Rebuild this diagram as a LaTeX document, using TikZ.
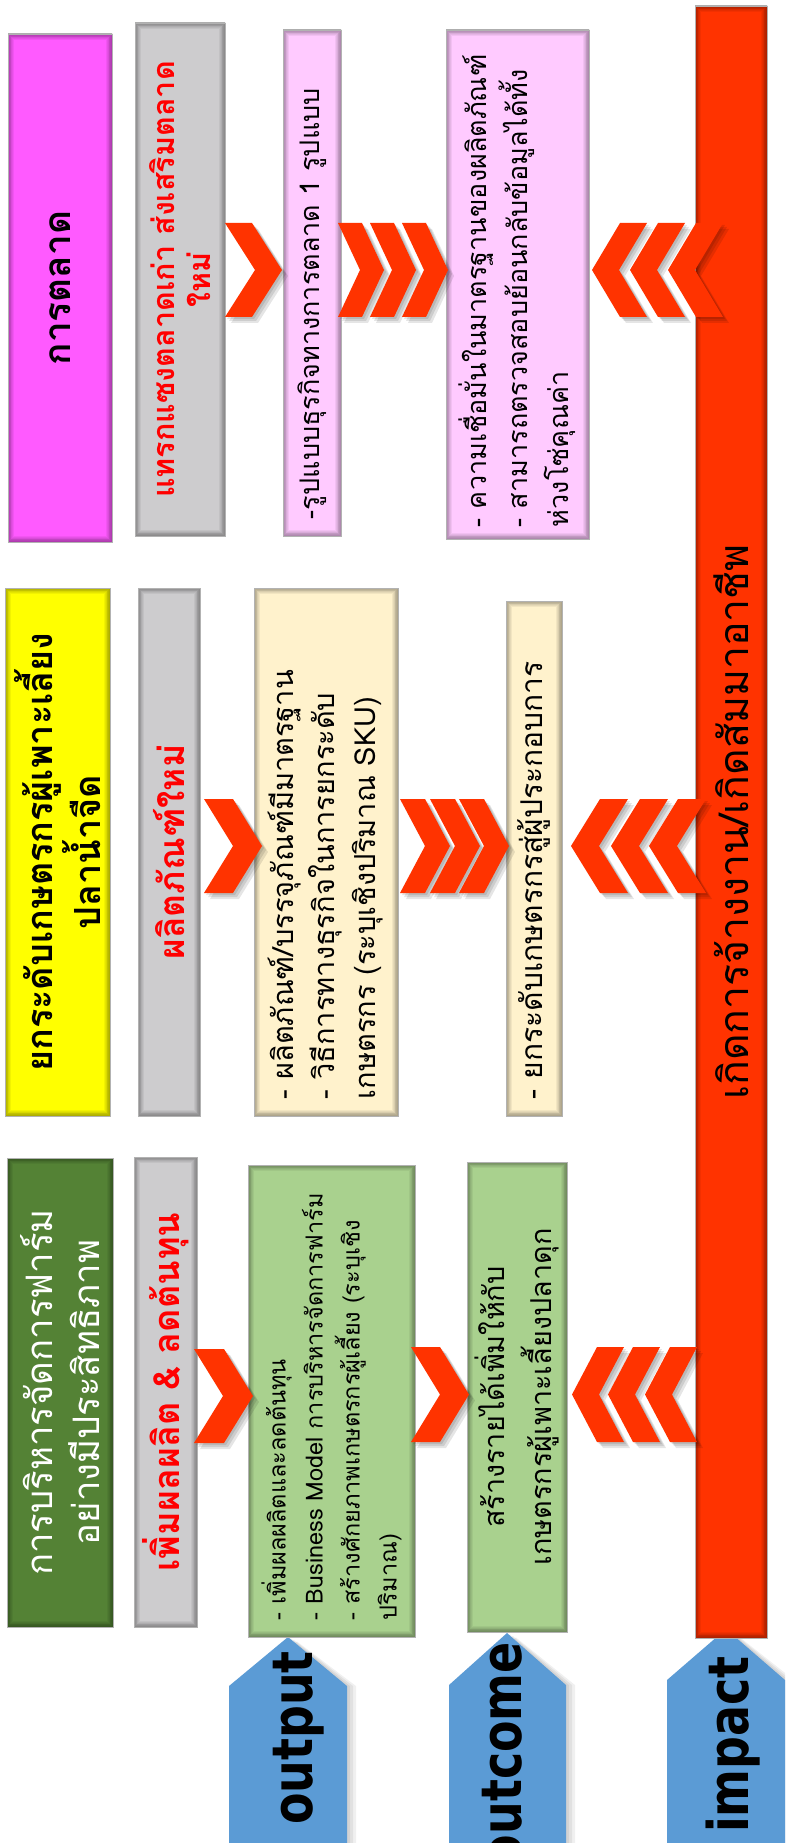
\documentclass[tikz,border=0pt]{standalone}
\usepackage{fontspec}
\newfontfamily\thaif[Script=Thai]{Loma}
\newfontfamily\labf{DejaVu Sans}
\definecolor{magc}{RGB}{255,90,255}
\definecolor{grayc}{RGB}{205,204,206}
\definecolor{pinkc}{RGB}{255,202,255}
\definecolor{redc}{RGB}{255,51,0}
\definecolor{yelc}{RGB}{255,255,0}
\definecolor{creamc}{RGB}{255,242,204}
\definecolor{dgreenc}{RGB}{84,130,53}
\definecolor{lgreenc}{RGB}{169,209,142}
\definecolor{bluec}{RGB}{91,155,213}
\definecolor{txtred}{RGB}{255,0,0}
\tikzset{
  box/.style={rotate=90, inner sep=0pt, draw=black!30, line width=0.6pt,
    path picture={\foreach \k in {1,...,7}{\draw[black, opacity=0.05, line width=\k*1.7pt]
      (path picture bounding box.south west) rectangle (path picture bounding box.north east);}}},
  body/.style={align=left, inner xsep=17pt, font=\thaif\fontsize{30}{39}\selectfont},
  title/.style={align=center, font=\thaif\bfseries\fontsize{36}{46}\selectfont},
  redtitle/.style={align=center, text=txtred, font=\thaif\bfseries\fontsize{34}{40}\selectfont},
  chev/.style={fill=redc},
  chevsh/.style={fill=black, opacity=0.10},
  pent/.style={fill=bluec},
  lab/.style={rotate=90, inner sep=0pt, font=\labf\bfseries\fontsize{56}{60}\selectfont},
}
% right-pointing chevron: x, ytop, w, d, h
\newcommand\chevR[5]{%
  \foreach \s in {2,4,6}{\fill[chevsh] ({#1+\s},{#2+\s}) -- ++({#3-#4},0) -- ++(#4,{#5/2}) -- ++(-#4,{#5/2}) -- ++({-(#3-#4)},0) -- ++(#4,{-#5/2}) -- cycle;}
  \fill[chev] (#1,#2) -- ++({#3-#4},0) -- ++(#4,{#5/2}) -- ++(-#4,{#5/2}) -- ++({-(#3-#4)},0) -- ++(#4,{-#5/2}) -- cycle;}
% left-pointing chevron: xtip, ytop, w, d, h
\newcommand\chevL[5]{%
  \foreach \s in {2,4,6}{\fill[chevsh] ({#1+\s},{#2+#5/2+\s}) -- ++(#4,{-#5/2}) -- ++({#3-#4},0) -- ++(-#4,{#5/2}) -- ++(#4,{#5/2}) -- ++({-(#3-#4)},0) -- cycle;}
  \fill[chev] (#1,{#2+#5/2}) -- ++(#4,{-#5/2}) -- ++({#3-#4},0) -- ++(-#4,{#5/2}) -- ++(#4,{#5/2}) -- ++({-(#3-#4)},0) -- cycle;}
\begin{document}
\begin{tikzpicture}[x=1pt,y=-1pt]
\useasboundingbox (0,0) rectangle (785,1843);
\clip (0,0) rectangle (785,1843);
\fill[white] (0,0) rectangle (785,1843);

% ---------- pentagon labels ----------
\foreach \s in {3,6,9}{
  \fill[black,opacity=0.06] ({229+\s},1850) -- ({229+\s},1686) -- ({288+\s},{1637+\s/2}) -- ({347+\s},1686) -- ({347+\s},1850) -- cycle;
  \fill[black,opacity=0.06] ({449+\s},1850) -- ({449+\s},1685) -- ({507+\s},{1633+\s/2}) -- ({566+\s},1685) -- ({566+\s},1850) -- cycle;
  \fill[black,opacity=0.06] ({667+\s},1850) -- ({667+\s},1680) -- ({726+\s},{1629+\s/2}) -- ({785+\s},1680) -- ({785+\s},1850) -- cycle;
}
\fill[pent] (229,1850) -- (229,1686) -- (288,1637) -- (347,1686) -- (347,1850) -- cycle;
\fill[pent] (449,1850) -- (449,1685) -- (507,1633) -- (566,1685) -- (566,1850) -- cycle;
\fill[pent] (667,1850) -- (667,1680) -- (726,1629) -- (785,1680) -- (785,1850) -- cycle;
\node[lab, anchor=base east] (outputlab) at (312,1651) {\scalebox{0.82}[1]{output}};
\node[lab, anchor=base east] (outcomelab) at (521,1642) {\scalebox{0.82}[1]{outcome}};
\node[lab, anchor=base east] (impactlab) at (748,1656) {\scalebox{0.82}[1]{impact}};

% ---------- impact bar ----------
\node[box, fill=redc, minimum width=1632pt, minimum height=72pt,
  font=\thaif\fontsize{41}{48}\selectfont] (bar) at (731,822) {เกิดการจ้างงาน/เกิดสัมมาอาชีพ};

% ---------- section A : marketing ----------
\node[box, fill=magc, minimum width=508pt, minimum height=104pt, title,
  font=\thaif\bfseries\fontsize{37}{46}\selectfont] (mkt) at (60,288) {การตลาด};
\node[box, fill=grayc, minimum width=513pt, minimum height=90pt, redtitle,
  font=\thaif\bfseries\fontsize{30.5}{36}\selectfont] (mktout) at (180,279.5) {แทรกแซงตลาดเก่า ส่งเสริมตลาด\\ใหม่};
\node[box, fill=pinkc, minimum width=506pt, minimum height=58pt, body, text width=472pt,
  font=\thaif\fontsize{27}{36}\selectfont] (mktmodel) at (312,283) {-รูปแบบธุรกิจทางการตลาด 1 รูปแบบ};
\node[box, fill=pinkc, minimum width=509pt, minimum height=143pt, body, inner xsep=12pt, text width=485pt,
  font=\thaif\fontsize{27}{41}\selectfont] (mktres) at (517.5,284.5) {- ความเชื่อมั่นในมาตรฐานของผลิตภัณฑ์\\- สามารถตรวจสอบย้อนกลับข้อมูลได้ทั้ง\\ห่วงโซ่คุณค่า};

% ---------- section B : product ----------
\node[box, fill=yelc, minimum width=528pt, minimum height=105pt, title] (prod) at (57.5,852) {ยกระดับเกษตรกรผู้เพาะเลี้ยง\\ปลาน้ำจืด};
\node[box, fill=grayc, minimum width=528pt, minimum height=62pt, redtitle,
  font=\thaif\bfseries\fontsize{35.4}{40}\selectfont] (prodout) at (169,852) {ผลิตภัณฑ์ใหม่};
\node[box, fill=creamc, minimum width=528pt, minimum height=144pt, body, text width=494pt,
  font=\thaif\fontsize{29}{41}\selectfont] (prodres) at (326,852) {- ผลิตภัณฑ์/บรรจุภัณฑ์มีมาตรฐาน\\- วิธีการทางธุรกิจในการยกระดับ\\เกษตรกร (ระบุเชิงปริมาณ SKU)};
\node[box, fill=creamc, minimum width=515pt, minimum height=56pt, body, text width=481pt] (prodoc) at (534,858.5) {- ยกระดับเกษตรกรสู่ผู้ประกอบการ};

% ---------- section C : farm ----------
\node[box, fill=dgreenc, minimum width=469pt, minimum height=106pt, align=center, text=white,
  font=\thaif\fontsize{36.5}{47}\selectfont] (farm) at (60,1392.5) {การบริหารจัดการฟาร์ม\\อย่างมีประสิทธิภาพ};
\node[box, fill=grayc, minimum width=470pt, minimum height=63pt, redtitle,
  font=\thaif\bfseries\fontsize{36}{40}\selectfont] (farmout) at (165.5,1392) {เพิ่มผลผลิต \& ลดต้นทุน};
\node[box, fill=lgreenc, minimum width=472pt, minimum height=167pt, body, text width=438pt,
  font=\thaif\fontsize{23.5}{37}\selectfont] (farmres) at (331.5,1401) {- เพิ่มผลผลิตและลดต้นทุน\\- Business Model การบริหารจัดการฟาร์ม\\- สร้างศักยภาพเกษตรกรผู้เลี้ยง (ระบุเชิง\\ปริมาณ)};
\node[box, fill=lgreenc, minimum width=470pt, minimum height=100pt, align=center,
  font=\thaif\fontsize{28.8}{47}\selectfont] (farmoc) at (517,1397) {สร้างรายได้เพิ่มให้กับ\\เกษตรกรผู้เพาะเลี้ยงปลาดุก};

% ---------- chevrons ----------
\chevR{225}{223}{57}{30}{94}
\chevR{338}{223}{46}{22}{94}
\chevR{370}{223}{46}{22}{94}
\chevR{402}{223}{46}{22}{94}
\chevL{592}{223}{55}{28}{94}
\chevL{630}{223}{55}{28}{94}
\chevL{668}{223}{55}{28}{94}

\chevR{204}{799}{58}{29}{94}
\chevR{400}{799}{50}{25}{94}
\chevR{430}{799}{50}{25}{94}
\chevR{459}{799}{50}{25}{94}
\chevL{571}{799}{57}{29}{94}
\chevL{611}{799}{57}{29}{94}
\chevL{649}{799}{57}{29}{94}

\chevR{194}{1349}{59}{29}{94}
\chevR{411}{1347}{58}{29}{95}
\chevL{572}{1347}{52}{25}{95}
\chevL{608}{1347}{52}{25}{95}
\chevL{645}{1347}{52}{25}{95}
\end{tikzpicture}
\end{document}
